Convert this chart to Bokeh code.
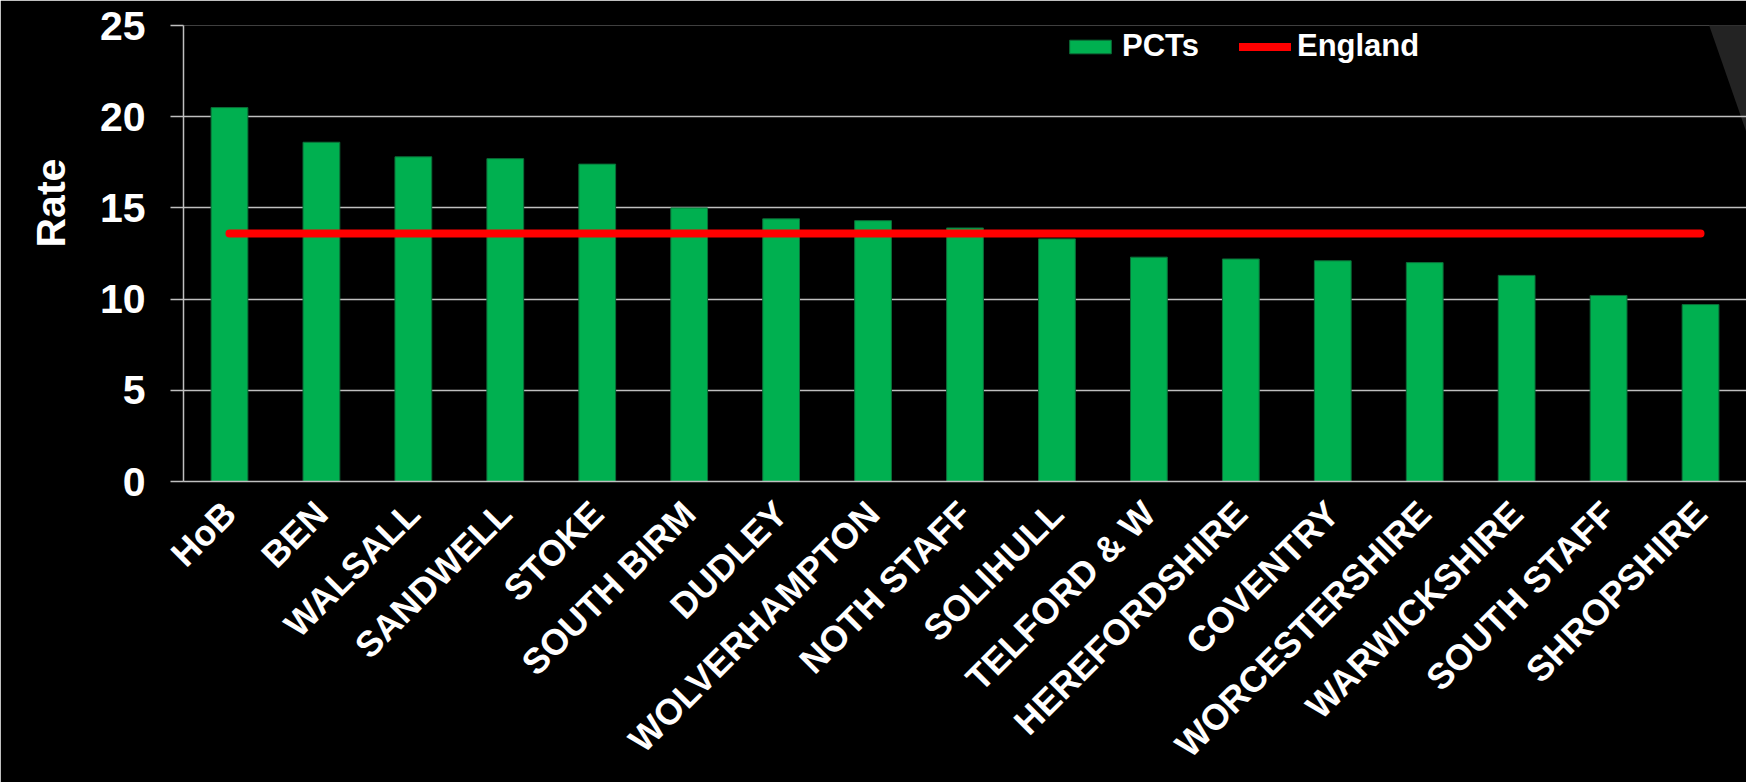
from math import pi

from bokeh.embed import file_html
from bokeh.models import (ColumnDataSource, FactorRange, FixedTicker,
                          Legend, LegendItem, PolyAnnotation, Range1d, Title)
from bokeh.plotting import figure
from bokeh.resources import INLINE

# ---------------- data ----------------
pcts = ["HoB", "BEN", "WALSALL", "SANDWELL", "STOKE", "SOUTH BIRM", "DUDLEY",
        "WOLVERHAMPTON", "NOTH STAFF", "SOLIHULL", "TELFORD & W",
        "HEREFORDSHIRE", "COVENTRY", "WORCESTERSHIRE", "WARWICKSHIRE",
        "SOUTH STAFF", "SHROPSHIRE"]
rates = [20.5, 18.6, 17.8, 17.7, 17.4, 15.0, 14.4, 14.3, 13.9, 13.3, 12.3,
         12.2, 12.1, 12.0, 11.3, 10.2, 9.7]
england = [13.6, 13.6, 13.6, 13.6, 13.6, 13.6, 13.6, 13.6, 13.6, 13.6, 13.6,
           13.6, 13.6, 13.6, 13.6, 13.6, 13.6]
y_ticks = [0, 5, 10, 15, 20, 25]
y_label = "Rate"
series_names = ["PCTs", "England"]

FONT = "Liberation Sans"
GRID = "#bfbfbf"

src = ColumnDataSource(dict(pct=pcts, rate=rates, england=england))

p = figure(width=1746, height=782,
           x_range=FactorRange(factors=pcts),
           y_range=Range1d(0, 25),
           output_backend="svg", toolbar_location=None,
           min_border_left=183, min_border_right=0,
           min_border_top=25, min_border_bottom=301,
           background_fill_color="black", border_fill_color="black",
           outline_line_color=None)

# slide background swoosh (decoration, top-right corner)
swoosh = PolyAnnotation(xs=[1517, 1563, 1563], ys=[481, 481, 349],
                        xs_units="screen", ys_units="screen",
                        fill_color="#232323", fill_alpha=1.0,
                        line_color=None, level="image")
p.add_layout(swoosh)

bars = p.vbar(x="pct", top="rate", width=0.4, source=src,
              fill_color="#00b050", line_color="#0b6e38", line_width=1)
eng = p.line(x="pct", y="england", source=src, line_color="#ff0000",
             line_width=8, line_cap="round")

# axes
p.xgrid.grid_line_color = None
p.ygrid.grid_line_color = GRID
p.ygrid.grid_line_width = 1.6
p.yaxis.ticker = FixedTicker(ticks=y_ticks)

for ax in (p.xaxis[0], p.yaxis[0]):
    ax.axis_line_color = GRID
    ax.axis_line_width = 1.5
    ax.major_label_text_color = "white"
    ax.major_label_text_font = FONT
    ax.major_label_text_font_style = "bold"
    ax.minor_tick_line_color = None

p.yaxis.major_tick_line_color = GRID
p.yaxis.major_tick_line_width = 1.5
p.yaxis.major_tick_out = 13
p.yaxis.major_tick_in = 0
p.yaxis.major_label_standoff = 25
p.yaxis.major_label_text_font_size = "41px"

p.xaxis.major_tick_line_color = None
p.xaxis.major_label_orientation = pi / 4
p.xaxis.major_label_standoff = 20
p.xaxis.major_label_text_font_size = "36px"

rate_title = Title(text=y_label, align="left", offset=234,
                   text_color="white", text_font=FONT,
                   text_font_style="bold", text_font_size="41px",
                   standoff=46)
p.add_layout(rate_title, "left")

legend = Legend(items=[LegendItem(label=series_names[0], renderers=[bars]),
                       LegendItem(label=series_names[1], renderers=[eng])],
                orientation="horizontal", location=(881, 417),
                background_fill_alpha=0, border_line_color=None,
                label_text_color="white", label_text_font=FONT,
                label_text_font_style="bold", label_text_font_size="31px",
                glyph_width=52, glyph_height=17, spacing=40, padding=0,
                margin=0, label_standoff=6)
p.add_layout(legend)

open("out.html", "w").write(file_html(p, INLINE))
